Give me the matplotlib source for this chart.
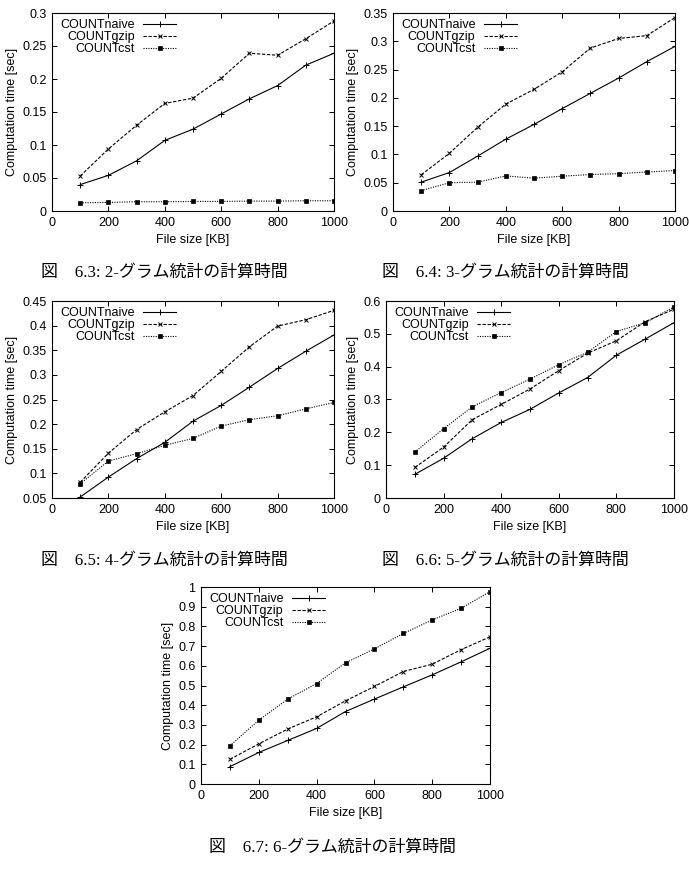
import matplotlib
matplotlib.use('Agg')
import matplotlib.pyplot as plt
from matplotlib.ticker import MultipleLocator, FuncFormatter

plt.rcParams['font.family'] = ['Liberation Sans', 'DejaVu Sans']
plt.rcParams['font.size'] = 9

file_size = [100, 200, 300, 400, 500, 600, 700, 800, 900, 1000]

# 2-gram
naive_2 = [0.040, 0.054, 0.076, 0.107, 0.124, 0.147, 0.170, 0.190, 0.221, 0.239]
gzip_2 = [0.053, 0.094, 0.130, 0.163, 0.171, 0.201, 0.239, 0.236, 0.261, 0.288]
cst_2 = [0.0125, 0.013, 0.014, 0.014, 0.0145, 0.0145, 0.015, 0.015, 0.0155, 0.0155]

# 3-gram
naive_3 = [0.051, 0.068, 0.097, 0.127, 0.153, 0.181, 0.208, 0.235, 0.264, 0.291]
gzip_3 = [0.064, 0.102, 0.148, 0.189, 0.215, 0.246, 0.288, 0.305, 0.310, 0.342]
cst_3 = [0.036, 0.050, 0.051, 0.062, 0.058, 0.0615, 0.0645, 0.066, 0.069, 0.0715]

# 4-gram
naive_4 = [0.052, 0.0925, 0.130, 0.163, 0.206, 0.238, 0.275, 0.313, 0.348, 0.381]
gzip_4 = [0.082, 0.141, 0.189, 0.225, 0.258, 0.307, 0.357, 0.399, 0.412, 0.431]
cst_4 = [0.079, 0.125, 0.140, 0.157, 0.171, 0.196, 0.209, 0.217, 0.231, 0.244]

# 5-gram
naive_5 = [0.072, 0.121, 0.181, 0.230, 0.270, 0.320, 0.367, 0.435, 0.484, 0.534]
gzip_5 = [0.093, 0.155, 0.239, 0.285, 0.332, 0.388, 0.441, 0.479, 0.537, 0.575]
cst_5 = [0.140, 0.211, 0.278, 0.321, 0.362, 0.406, 0.444, 0.507, 0.534, 0.582]

# 6-gram
naive_6 = [0.088, 0.160, 0.221, 0.282, 0.368, 0.431, 0.493, 0.554, 0.620, 0.689]
gzip_6 = [0.125, 0.204, 0.279, 0.341, 0.422, 0.495, 0.571, 0.608, 0.682, 0.747]
cst_6 = [0.194, 0.324, 0.431, 0.510, 0.615, 0.686, 0.764, 0.833, 0.892, 0.976]

captions = ['図　6.3: 2-グラム統計の計算時間',
            '図　6.4: 3-グラム統計の計算時間',
            '図　6.5: 4-グラム統計の計算時間',
            '図　6.6: 5-グラム統計の計算時間',
            '図　6.7: 6-グラム統計の計算時間']

W, H = 689, 880
fig = plt.figure(figsize=(W / 100, H / 100), dpi=100)


def add_panel(box, naive, gzip, cst, ylim, ystep):
    """box is (left, top, right, bottom) in pixels."""
    l, t, r, b = box
    ax = fig.add_axes([l / W, 1 - b / H, (r - l) / W, (b - t) / H])
    ax.plot(file_size, naive, color='k', lw=0.8, ls='-',
            marker='+', ms=4, mew=0.7, label='COUNTnaive')
    ax.plot(file_size, gzip, color='k', lw=0.8, ls=(0, (3, 1.5)),
            marker='x', ms=3.2, mew=0.7, label='COUNTgzip')
    ax.plot(file_size, cst, color='k', lw=0.8, ls=(0, (1, 1.2)),
            marker='s', ms=2.3, mew=0.5, label='COUNTcst')
    ax.set_xlim(0, 1000)
    ax.set_ylim(*ylim)
    ax.xaxis.set_major_locator(MultipleLocator(200))
    ax.yaxis.set_major_locator(MultipleLocator(ystep))
    ax.yaxis.set_major_formatter(FuncFormatter(lambda v, p: '%g' % round(v, 3)))
    ax.tick_params(direction='in', top=True, right=True, length=3.5,
                   width=0.7, pad=4)
    for s in ax.spines.values():
        s.set_linewidth(0.8)
    ax.set_xlabel('File size [KB]', labelpad=4)
    ax.set_ylabel('Computation time [sec]', labelpad=3)
    pw, ph = r - l, b - t
    ax.legend(loc='upper left', bbox_to_anchor=(8 / pw, 1 - 6 / ph),
              markerfirst=False, frameon=False, borderpad=0,
              borderaxespad=0, labelspacing=0.0, handlelength=2.6,
              handletextpad=0.7)
    return ax


add_panel((52, 13, 334, 211), naive_2, gzip_2, cst_2, (0, 0.3), 0.05)
add_panel((393, 13, 675, 211), naive_3, gzip_3, cst_3, (0, 0.35), 0.05)
add_panel((52, 301, 334, 498), naive_4, gzip_4, cst_4, (0.05, 0.45), 0.05)
add_panel((386, 301, 674, 498), naive_5, gzip_5, cst_5, (0, 0.6), 0.1)
add_panel((201, 587, 490, 784), naive_6, gzip_6, cst_6, (0, 1.0), 0.1)

cap_pos = [(164, 273), (505, 273), (164, 561), (505, 561), (332, 848)]
for (cx, cy), txt in zip(cap_pos, captions):
    fig.text(cx / W, 1 - cy / H, txt, ha='center', va='center', fontsize=12.2,
             family=['Liberation Serif', 'Noto Sans CJK JP'])

fig.savefig('out.png', dpi=100)
